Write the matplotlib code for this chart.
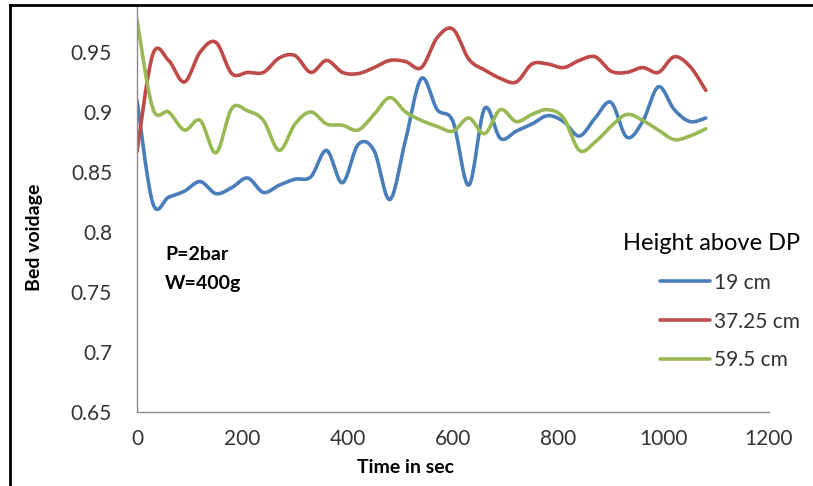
import numpy as np
import matplotlib
matplotlib.use("Agg")
import matplotlib.pyplot as plt
from matplotlib.lines import Line2D

# ---- data ----
time_s = list(range(0, 1081, 30))
h19 = [0.910, 0.824, 0.829, 0.834, 0.842, 0.832, 0.837, 0.845, 0.833, 0.839,
       0.844, 0.846, 0.868, 0.841, 0.873, 0.868, 0.827, 0.877, 0.928, 0.902,
       0.892, 0.839, 0.903, 0.878, 0.884, 0.890, 0.897, 0.892, 0.880, 0.895,
       0.908, 0.879, 0.892, 0.921, 0.902, 0.892, 0.895]
h3725 = [0.867, 0.948, 0.943, 0.925, 0.950, 0.958, 0.932, 0.933, 0.933, 0.945,
         0.947, 0.933, 0.943, 0.933, 0.932, 0.937, 0.943, 0.942, 0.937, 0.962,
         0.969, 0.944, 0.935, 0.928, 0.925, 0.940, 0.940, 0.937, 0.943, 0.946,
         0.934, 0.933, 0.937, 0.933, 0.946, 0.938, 0.918]
h595 = [0.977, 0.903, 0.900, 0.885, 0.893, 0.866, 0.903, 0.901, 0.893, 0.868,
        0.890, 0.900, 0.890, 0.889, 0.885, 0.898, 0.912, 0.900, 0.893, 0.888,
        0.884, 0.895, 0.882, 0.902, 0.892, 0.898, 0.902, 0.895, 0.868, 0.875,
        0.888, 0.898, 0.893, 0.885, 0.877, 0.880, 0.886]
labels = ["19 cm", "37.25 cm", "59.5 cm"]
colors = ["#4A7EBB", "#BE4B48", "#98B954"]
xticks = [0, 200, 400, 600, 800, 1000, 1200]
yticks = [0.65, 0.7, 0.75, 0.8, 0.85, 0.9, 0.95]
ytick_labels = ["0.65", "0.7", "0.75", "0.8", "0.85", "0.9", "0.95"]


def smooth(x, y, n=16):
    """Excel-like smoothed line (Catmull-Rom Bezier) through the data points."""
    p = np.column_stack([x, y]).astype(float)
    pts = [p[0]]
    for i in range(len(p) - 1):
        p0 = p[i - 1] if i > 0 else p[i]
        p1, p2 = p[i], p[i + 1]
        p3 = p[i + 2] if i + 2 < len(p) else p[i + 1]
        c1 = p1 + (p2 - p0) / 6.0
        c2 = p2 - (p3 - p1) / 6.0
        t = np.linspace(0, 1, n + 1)[1:, None]
        seg = ((1 - t) ** 3) * p1 + 3 * ((1 - t) ** 2) * t * c1 + 3 * (1 - t) * t ** 2 * c2 + t ** 3 * p2
        pts.extend(seg)
    pts = np.array(pts)
    return pts[:, 0], pts[:, 1]


plt.rcParams['font.family'] = ['Lato', 'DejaVu Sans']

fig = plt.figure(figsize=(8.13, 4.86), dpi=100)
ax = fig.add_axes([137 / 813, 74 / 486, 632 / 813, 405 / 486])

for ys, lab, col in zip([h19, h3725, h595], labels, colors):
    sx, sy = smooth(time_s, ys)
    ax.plot(sx, sy, color=col, lw=2.6, label=lab, solid_capstyle='round')

ax.set_xlim(0, 1200)
ax.set_ylim(0.65, 0.9875)
ax.set_xticks(xticks)
ax.set_xticklabels([str(v) for v in xticks])
ax.set_yticks(yticks)
ax.set_yticklabels(ytick_labels)
ax.tick_params(length=0, labelsize=15, colors="#333333")
ax.tick_params(axis='x', pad=12)
ax.tick_params(axis='y', pad=18)
for s in ["top", "right"]:
    ax.spines[s].set_visible(False)
for s in ["left", "bottom"]:
    ax.spines[s].set_color("#8c8c8c")
    ax.spines[s].set_linewidth(1.0)

ax.set_xlabel("Time in sec", fontsize=14, fontweight='bold', va='center')
ax.set_ylabel("Bed voidage", fontsize=14, fontweight='bold', va='center')
ax.xaxis.set_label_coords((405 - 137) / 632, (412 - 467) / 405)
ax.yaxis.set_label_coords((35 - 137) / 632, (412 - 237) / 405)

ax.text(165 / 813, 1 - 254 / 486, "P=2bar", transform=fig.transFigure,
        fontsize=14, fontweight='bold', va='center', ha='left')
ax.text(165 / 813, 1 - 283 / 486, "W=400g", transform=fig.transFigure,
        fontsize=14, fontweight='bold', va='center', ha='left')

leg = ax.legend(loc='upper right', bbox_to_anchor=(800 / 813, 1 - 233 / 486),
                bbox_transform=fig.transFigure, frameon=False,
                title="Height above DP", title_fontsize=17, fontsize=15,
                handlelength=2.4, handletextpad=0.2, labelspacing=0.9,
                borderpad=0, borderaxespad=0)
leg.set_alignment('right')
for t in leg.get_texts():
    t.set_color("#333333")

# outer black frame (top and left edges visible in the reference)
fig.add_artist(Line2D([10 / 813, 1], [1 - 5 / 486, 1 - 5 / 486],
                      transform=fig.transFigure, color="black", lw=2))
fig.add_artist(Line2D([10 / 813, 10 / 813], [0, 1 - 5 / 486],
                      transform=fig.transFigure, color="black", lw=2))

fig.savefig("out.png", dpi=100)
